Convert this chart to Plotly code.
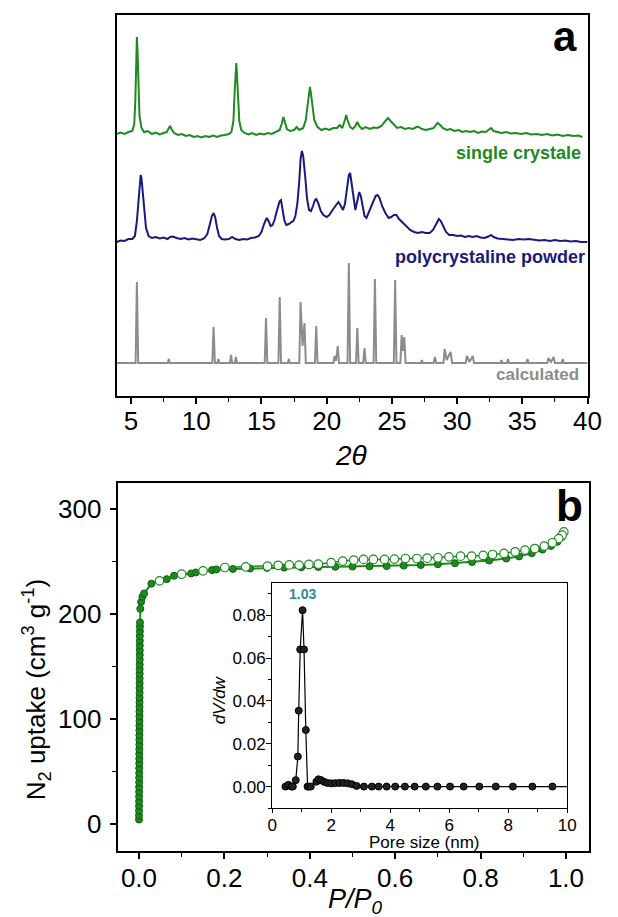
import plotly.graph_objects as go

# ---------------- Panel a: PXRD (intensity in arbitrary offset units) ----------------
single_x = [3.9, 4.2, 4.5, 4.8, 5.1, 5.25, 5.33, 5.4, 5.45, 5.5, 5.56, 5.65, 5.8, 6.0, 6.3, 6.6, 6.9,
            7.2, 7.5, 7.75, 7.9, 8.0, 8.1, 8.3, 8.6, 8.9, 9.2, 9.5, 9.8, 10.1, 10.4, 10.7, 11.0, 11.3,
            11.6, 11.9, 12.2, 12.5, 12.7, 12.85, 12.95, 13.02, 13.07, 13.13, 13.2, 13.3, 13.45, 13.7,
            14.0, 14.3, 14.6, 14.9, 15.2, 15.5, 15.8, 16.1, 16.4, 16.55, 16.68, 16.8, 16.95, 17.2,
            17.5, 17.7, 17.9, 18.2, 18.4, 18.55, 18.65, 18.72, 18.8, 18.9, 19.05, 19.3, 19.6, 19.9,
            20.2, 20.5, 20.8, 21.0, 21.2, 21.4, 21.5, 21.6, 21.8, 22.0, 22.2, 22.35, 22.5, 22.7, 23.0,
            23.3, 23.6, 23.9, 24.2, 24.5, 24.7, 24.9, 25.1, 25.4, 25.7, 26.0, 26.3, 26.6, 26.9, 27.0,
            27.3, 27.6, 27.9, 28.2, 28.5, 28.7, 28.9, 29.2, 29.5, 29.8, 30.1, 30.4, 30.7, 31.0, 31.3,
            31.6, 31.9, 32.2, 32.5, 32.6, 32.8, 33.1, 33.4, 33.8, 34.1, 34.5, 34.9, 35.3, 35.7, 36.1,
            36.5, 36.9, 37.3, 37.7, 38.1, 38.5, 38.9, 39.3, 39.6]
single_y = [262, 263.5, 262, 264, 265, 272, 295, 335, 359, 345, 305, 280, 268, 264, 265, 262, 263.5,
            261.5, 263, 264, 268, 270, 267, 263, 261, 262, 260, 261, 259, 260, 258.5, 260, 259, 260.5,
            259, 260.5, 261, 262, 264, 275, 305, 330, 333, 320, 295, 275, 266, 263,
            261.5, 263, 261, 262.5, 261.5, 263, 262, 264, 266, 272, 279, 274, 267, 265,
            266, 269, 266, 268, 276, 292, 305, 309, 302, 290, 276, 269, 266, 267.5,
            266, 268, 268, 271, 268, 276, 281, 276, 269, 267, 270, 274, 270, 267, 269,
            267, 268.5, 268, 270, 275, 278, 275, 272, 268, 269, 267, 268, 267, 269, 269.5,
            267, 266, 267, 268, 273, 271, 268, 266, 267, 265, 266, 264, 265, 264, 265,
            263, 264.5, 264, 267, 268, 265, 264, 263, 264, 262.5, 263, 262, 263, 261.5, 262,
            261, 262, 260.5, 261.5, 260, 261, 260, 260.5, 259]

powder_x = [3.9, 4.2, 4.5, 4.8, 5.1, 5.3, 5.45, 5.58, 5.68, 5.74, 5.8, 5.9, 6.0, 6.15, 6.35, 6.6,
            6.9, 7.2, 7.5, 7.8, 8.0, 8.2, 8.5, 8.8, 9.1, 9.4, 9.7, 10.0, 10.3, 10.6, 10.85, 11.05,
            11.2, 11.33, 11.45, 11.6, 11.75, 11.95, 12.2, 12.5, 12.75, 13.0, 13.3, 13.6, 13.9, 14.2,
            14.5, 14.8, 15.0, 15.2, 15.4, 15.55, 15.7, 15.85, 16.0, 16.2, 16.4, 16.5, 16.62, 16.75,
            16.9, 17.1, 17.3, 17.45, 17.6, 17.75, 17.9, 18.0, 18.1, 18.2, 18.35, 18.5, 18.65, 18.8,
            18.95, 19.1, 19.2, 19.35, 19.55, 19.75, 20.0, 20.2, 20.45, 20.7, 20.9, 21.05, 21.25,
            21.4, 21.55, 21.7, 21.8, 21.95, 22.1, 22.2, 22.35, 22.5, 22.62, 22.78, 22.9, 23.05,
            23.25, 23.5, 23.75, 23.9, 24.05, 24.25, 24.5, 24.75, 24.95, 25.15, 25.35, 25.55, 25.8,
            26.1, 26.4, 26.7, 27.0, 27.3, 27.6, 27.9, 28.15, 28.4, 28.6, 28.75, 28.95, 29.15, 29.4,
            29.7, 30.0, 30.3, 30.6, 30.9, 31.2, 31.5, 31.8, 32.1, 32.4, 32.6, 32.8, 33.1, 33.5,
            33.9, 34.3, 34.7, 35.1, 35.5, 35.9, 36.3, 36.7, 37.1, 37.5, 37.9, 38.3, 38.7, 39.1,
            39.5, 40.0]
powder_y = [154, 155.5, 155, 157, 157, 160, 175, 200, 217, 221, 218, 205, 185, 168, 160, 158,
            159, 157.5, 158.5, 157, 159, 159.5, 158, 157, 158, 156.5, 157.5, 157, 156, 157.5, 162, 172,
            180, 183, 179, 168, 160, 157, 156.5, 157, 159, 157, 156, 157, 156.5, 158,
            158.5, 160, 164, 172, 178, 175, 170, 171, 176, 186, 195, 196, 188, 176,
            171, 172, 174, 175, 180, 192, 215, 237, 245, 240, 220, 197, 186, 185,
            190, 196, 197, 193, 185, 181, 179, 181, 186, 191, 194, 191, 186,
            192, 208, 221, 223, 210, 192, 186, 195, 204, 200, 188, 180, 178,
            184, 193, 200, 201, 198, 190, 183, 178, 179, 181, 181, 177, 174,
            170, 166, 164, 163, 164, 163, 163, 166, 172, 177, 175, 169, 164, 161,
            161, 160, 160.5, 159, 160, 159, 160, 158.5, 158, 159.5, 161, 159, 157.5, 157,
            156.5, 156, 157, 156.5, 157, 156, 155.5, 156, 155, 156, 155, 155.5, 154.5, 155,
            154, 154]

calc_x = [3.9, 5.35, 5.45, 5.55, 7.82, 7.9, 7.98, 11.23, 11.33, 11.43, 11.62, 11.7, 11.78,
          12.59, 12.67, 12.75, 12.96, 13.04, 13.12, 15.25, 15.35, 15.45, 16.3, 16.4, 16.5,
          17.02, 17.1, 17.18, 17.9, 18.0, 18.15, 18.3, 18.4, 19.1, 19.2, 19.3, 20.52, 20.6,
          20.72, 20.85, 20.95, 21.6, 21.7, 21.8, 22.25, 22.35, 22.45, 22.8, 22.9, 23.0,
          23.6, 23.7, 23.8, 25.15, 25.25, 25.35, 25.65, 25.75, 25.85, 25.95, 26.05,
          27.22, 27.3, 27.38, 28.2, 28.3, 28.4, 28.95, 29.05, 29.2, 29.5, 29.62,
          30.65, 30.75, 30.95, 31.2, 31.3, 33.32, 33.4, 33.48, 33.82, 33.9, 33.98,
          35.32, 35.4, 35.48, 36.92, 37.0, 37.2, 37.4, 37.5, 38.02, 38.1, 38.18, 40.0]
calc_y = [33, 33, 114, 33, 33, 37, 33, 33, 69, 33, 33, 37, 33,
          33, 41, 33, 33, 39, 33, 33, 78, 33, 33, 99, 33,
          33, 37, 33, 33, 94, 50, 73, 33, 33, 70, 33, 33, 40,
          35, 50, 33, 33, 133, 33, 33, 68, 33, 33, 48, 33,
          33, 117, 33, 33, 116, 33, 33, 61, 45, 59, 33,
          33, 36, 33, 33, 39, 33, 33, 47, 36, 44, 33,
          33, 40, 34, 40, 33, 33, 36, 33, 33, 37, 33,
          33, 37, 33, 33, 38, 34, 39, 33, 33, 37, 33, 33]

# ---------------- Panel b: N2 isotherm ----------------
ads_p = [0.00005, 0.0001, 0.00015, 0.0002, 0.00025, 0.0003, 0.00035, 0.0004, 0.00045, 0.0005,
         0.00055, 0.0006, 0.00065, 0.0007, 0.00075, 0.0008, 0.00085, 0.0009, 0.00095, 0.001,
         0.00105, 0.0011, 0.00115, 0.0012, 0.00125, 0.0013, 0.00135, 0.0014, 0.00145, 0.0015,
         0.00155, 0.0016, 0.00165, 0.0017, 0.00175, 0.0018, 0.00185, 0.0019, 0.00195, 0.002,
         0.0021, 0.0022, 0.0024,
         0.003, 0.005, 0.008, 0.012, 0.029, 0.065, 0.082, 0.122, 0.133, 0.171, 0.181,
         0.22, 0.26, 0.30, 0.34, 0.38, 0.42, 0.46, 0.50, 0.54, 0.58, 0.62, 0.66, 0.70,
         0.74, 0.78, 0.82, 0.86, 0.89, 0.92, 0.945, 0.965, 0.98, 0.99]
ads_v = [4, 8, 12.5, 17, 21.5, 26, 30.5, 35, 39.5, 44,
         48.5, 53, 57.5, 62, 66.5, 71, 75.5, 80, 84.5, 89,
         93.5, 98, 102.5, 107, 111.5, 116, 120.5, 125, 129.5, 134,
         138.5, 143, 147.5, 152, 156.5, 161, 165.5, 170, 174.5, 179,
         183.5, 188, 192,
         205, 211.7, 216.5, 219.7, 229, 233.3, 236.5, 238.7, 239.7, 241.9, 242.6,
         243, 243.5, 244, 244.3, 244.6, 244.9, 245.1, 245.3, 245.5, 245.8, 246.2, 246.8, 247.5,
         248.5, 249.6, 251, 253, 255, 258, 261.5, 265, 269, 273.5]

des_p = [0.995, 0.991, 0.983, 0.968, 0.949, 0.927, 0.904, 0.881, 0.855, 0.828, 0.806, 0.779,
         0.753, 0.726, 0.700, 0.675, 0.651, 0.624, 0.598, 0.575, 0.549, 0.526, 0.503, 0.477,
         0.450, 0.420, 0.398, 0.375, 0.352, 0.326, 0.301, 0.250, 0.201, 0.150, 0.100, 0.048]
des_v = [278.4, 275.2, 272, 268, 264.8, 262.5, 261, 259.4, 257.8, 256.8, 255.9, 255.2,
         255.2, 254.6, 253.7, 253.3, 253, 253, 252.4, 252.1, 252.1, 252.1, 251.5, 250.5,
         249, 247.6, 247.3, 246.7, 246.9, 246.5, 245.7, 245, 244.4, 241.2, 238, 231.7]

# ---------------- Inset: pore size distribution ----------------
pore_w = [0.45, 0.55, 0.65, 0.70, 0.80, 0.87, 0.90, 0.95, 1.03, 1.08, 1.14, 1.20, 1.24, 1.31,
          1.50, 1.57, 1.66, 1.76, 1.87, 2.00, 2.14, 2.28, 2.42, 2.56, 2.70, 2.86, 3.11, 3.38,
          3.61, 3.88, 4.17, 4.50, 4.83, 5.21, 5.60, 6.03, 6.49, 7.02, 7.58, 8.16, 8.82, 9.50, 10.3]
pore_dv = [0.0, 0.0008, 0.0, 0.0, 0.003, 0.014, 0.0354, 0.064, 0.0823, 0.064, 0.0264, 0.0, 0.0, 0.0,
           0.0023, 0.0034, 0.003, 0.0022, 0.0017, 0.0015, 0.0016, 0.0017, 0.0017, 0.0015, 0.0011,
           0.0003, 0.0, 0.0, 0.0, 0.0, 0.0, 0.0, 0.0, 0.0, 0.0, 0.0, 0.0, 0.0, 0.0, 0.0, 0.0, 0.0, 0.0]
peak_label = "1.03"

GREEN = "#1f8a1f"
NAVY = "#1a1a7a"
GRAY = "#8c8c8c"
TEAL = "#2b8a9c"
FONT = "Liberation Sans, Arial, sans-serif"

fig = go.Figure()
fig.add_trace(go.Scatter(x=single_x, y=single_y, mode="lines", line=dict(color=GREEN, width=2),
                         xaxis="x", yaxis="y", showlegend=False, name="single crystale"))
fig.add_trace(go.Scatter(x=powder_x, y=powder_y, mode="lines", line=dict(color=NAVY, width=2),
                         xaxis="x", yaxis="y", showlegend=False, name="polycrystaline powder"))
fig.add_trace(go.Scatter(x=calc_x, y=calc_y, mode="lines", line=dict(color=GRAY, width=2),
                         xaxis="x", yaxis="y", showlegend=False, name="calculated"))

fig.add_trace(go.Scatter(x=ads_p, y=ads_v, mode="lines+markers", line=dict(color=GREEN, width=2),
                         marker=dict(size=7, color=GREEN, line=dict(color="#0f5f0f", width=1)),
                         xaxis="x2", yaxis="y2", showlegend=False, name="adsorption"))
fig.add_trace(go.Scatter(x=des_p, y=des_v, mode="lines+markers", line=dict(color=GREEN, width=1.5),
                         marker=dict(size=8.5, color="white", line=dict(color=GREEN, width=1.2)),
                         xaxis="x2", yaxis="y2", showlegend=False, name="desorption"))

fig.add_trace(go.Scatter(x=pore_w, y=pore_dv, mode="lines+markers", line=dict(color="black", width=1.2),
                         marker=dict(size=7, color="#222222", line=dict(color="black", width=1)),
                         xaxis="x3", yaxis="y3", showlegend=False, name="PSD", cliponaxis=True))

# the page body has an 8 px margin: lay the figure out in page pixels and shift by it
OFF = 8
W, H = 618 - OFF, 917 - OFF
def px(x):
    return (x - OFF) / W
def py(y):
    return 1 - (y - OFF) / H

axis_common = dict(showline=True, mirror=True, linecolor="black", showgrid=False, zeroline=False,
                   tickcolor="black")

fig.update_layout(
    width=W, height=H, margin=dict(l=0, r=0, t=0, b=0),
    paper_bgcolor="white", plot_bgcolor="white",
    font=dict(family=FONT, color="black"),
    xaxis=dict(domain=[px(115), px(601)], range=[3.9, 40], anchor="y", dtick=5, tick0=0,
               ticks="outside", ticklen=6, tickwidth=1.5, linewidth=2, ticklabelstandoff=-5,
               tickfont=dict(size=26, family=FONT),
               minor=dict(dtick=2.5, tick0=0, ticks="outside", ticklen=4, tickwidth=1.2, tickcolor="black"),
               **axis_common),
    yaxis=dict(domain=[py(396), py(15)], range=[0, 381], anchor="x", showticklabels=False, ticks="",
               linewidth=2, **axis_common),
    xaxis2=dict(domain=[px(116), px(603)], range=[-0.05, 1.055], anchor="y2", dtick=0.2, tick0=0,
                tickformat=".1f", ticks="outside", ticklen=6, tickwidth=1.5, linewidth=2,
                ticklabelstandoff=-3,
                tickfont=dict(size=26, family=FONT),
                minor=dict(dtick=0.1, tick0=0, ticks="outside", ticklen=4, tickwidth=1.2, tickcolor="black"),
                **axis_common),
    yaxis2=dict(domain=[py(851), py(483)], range=[-26, 325], anchor="x2", dtick=100, tick0=0,
                ticks="outside", ticklen=6, tickwidth=1.5, linewidth=2, ticklabelstandoff=3,
                tickfont=dict(size=26, family=FONT),
                minor=dict(dtick=50, tick0=0, ticks="outside", ticklen=4, tickwidth=1.2, tickcolor="black"),
                **axis_common),
    xaxis3=dict(domain=[px(275.5), px(580)], range=[0, 10], anchor="y3", dtick=2, tick0=0,
                ticks="outside", ticklen=4, tickwidth=1, linewidth=1.3, ticklabelstandoff=-3,
                tickfont=dict(size=17, family=FONT),
                minor=dict(dtick=1, tick0=0, ticks="outside", ticklen=3, tickwidth=1, tickcolor="black"),
                **axis_common),
    yaxis3=dict(domain=[py(808), py(583)], range=[-0.01, 0.095], anchor="x3", dtick=0.02, tick0=0,
                tickformat=".2f", ticks="outside", ticklen=5, tickwidth=1, linewidth=1.3,
                ticklabelstandoff=-3,
                tickfont=dict(size=17, family=FONT),
                minor=dict(dtick=0.01, tick0=0, ticks="outside", ticklen=3, tickwidth=1, tickcolor="black"),
                **axis_common),
)

ann = []
def add(text, x, y, size, color="black", bold=False, italic=False, angle=0, xanchor="center",
        yanchor="middle"):
    t = text
    if italic:
        t = "<i>" + t + "</i>"
    if bold:
        t = "<b>" + t + "</b>"
    ann.append(dict(text=t, x=x, y=y, xref="paper", yref="paper", showarrow=False, textangle=angle,
                    xanchor=xanchor, yanchor=yanchor, font=dict(size=size, color=color, family=FONT)))

add("a", px(578), py(37), 42, bold=True)
add("single crystale", px(596), py(153), 18, color=GREEN, bold=True, xanchor="right")
add("polycrystaline powder", px(600), py(257), 18, color=NAVY, bold=True, xanchor="right")
add("calculated", px(594), py(375), 17, color=GRAY, bold=True, xanchor="right")
add("2θ", px(357), py(455), 28, italic=True)

add("b", px(582), py(505), 44, bold=True)
add("N<sub>2</sub> uptake (cm<sup>3</sup> g<sup>-1</sup>)", px(32), py(690), 26, angle=-90)
add("P/P<sub>0</sub>", px(362), py(901), 27, italic=True)

add("dV/dw", px(221), py(700), 17, italic=True, angle=-90)
add("Pore size (nm)", px(433), py(842), 17)
ann.append(dict(text="<b>" + peak_label + "</b>", x=1.03, y=0.0823, xref="x3", yref="y3",
                showarrow=False, yanchor="bottom", yshift=6,
                font=dict(size=14, color=TEAL, family=FONT)))

fig.update_layout(annotations=ann)
fig.write_html("out.html")
